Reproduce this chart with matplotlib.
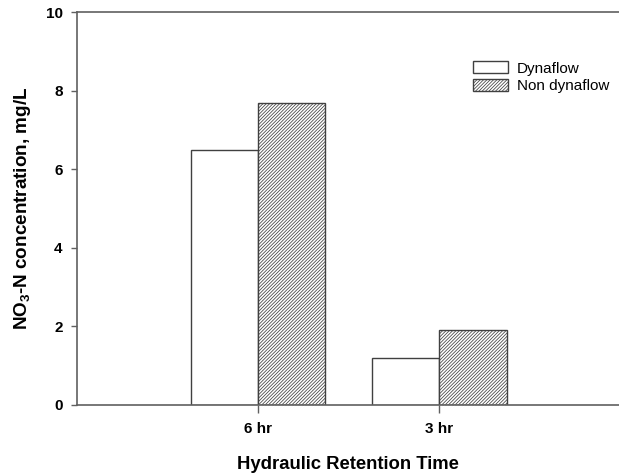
import matplotlib
matplotlib.use('Agg')
import matplotlib.pyplot as plt
import numpy as np

plt.rcParams['font.family'] = ['Liberation Sans', 'DejaVu Sans']
plt.rcParams['mathtext.fontset'] = 'custom'
plt.rcParams['mathtext.rm'] = 'Liberation Sans:bold'
plt.rcParams['mathtext.default'] = 'rm'
plt.rcParams['hatch.color'] = '#666666'
plt.rcParams['hatch.linewidth'] = 0.55

# data
categories = ['6 hr', '3 hr']
dynaflow = [6.5, 1.19]
non_dynaflow = [7.68, 1.91]

x = np.arange(len(categories))
width = 0.37

fig = plt.figure(figsize=(6.19, 4.73), dpi=100)
ax = fig.add_axes([0.1236, 0.1438, 0.8764, 0.8308])

ax.bar(x - width / 2, dynaflow, width, label='Dynaflow', color='white',
       edgecolor='#404040', linewidth=1.0)
ax.bar(x + width / 2, non_dynaflow, width, label='Non dynaflow', color='white',
       edgecolor='#404040', linewidth=1.0, hatch='/' * 10)

ax.set_xlim(-1.0, 1.99)
ax.set_ylim(0, 10)
ax.set_yticks([0, 2, 4, 6, 8, 10])
ax.set_xticks(x)
ax.set_xticklabels(categories)

for side in ['top', 'left', 'bottom']:
    ax.spines[side].set_color('#606060')
    ax.spines[side].set_linewidth(1.2)
ax.spines['right'].set_visible(False)

ax.tick_params(axis='y', length=4, width=1, color='#606060', pad=6, labelsize=11)
ax.tick_params(axis='x', length=6, width=1, color='#606060', pad=6, labelsize=11)
for lbl in ax.get_xticklabels() + ax.get_yticklabels():
    lbl.set_fontweight('bold')

ax.set_xlabel('Hydraulic Retention Time', fontsize=13.3, fontweight='bold', labelpad=15)
ax.set_ylabel(r'NO$_3$-N concentration, mg/L', fontsize=13.6, fontweight='bold', labelpad=9)

ax.legend(loc='upper left', bbox_to_anchor=(0.72, 0.89), frameon=False,
          fontsize=11, handlelength=2.3, handleheight=0.8, labelspacing=0.25,
          handletextpad=0.55, borderaxespad=0)

plt.savefig('out.png', dpi=100)
